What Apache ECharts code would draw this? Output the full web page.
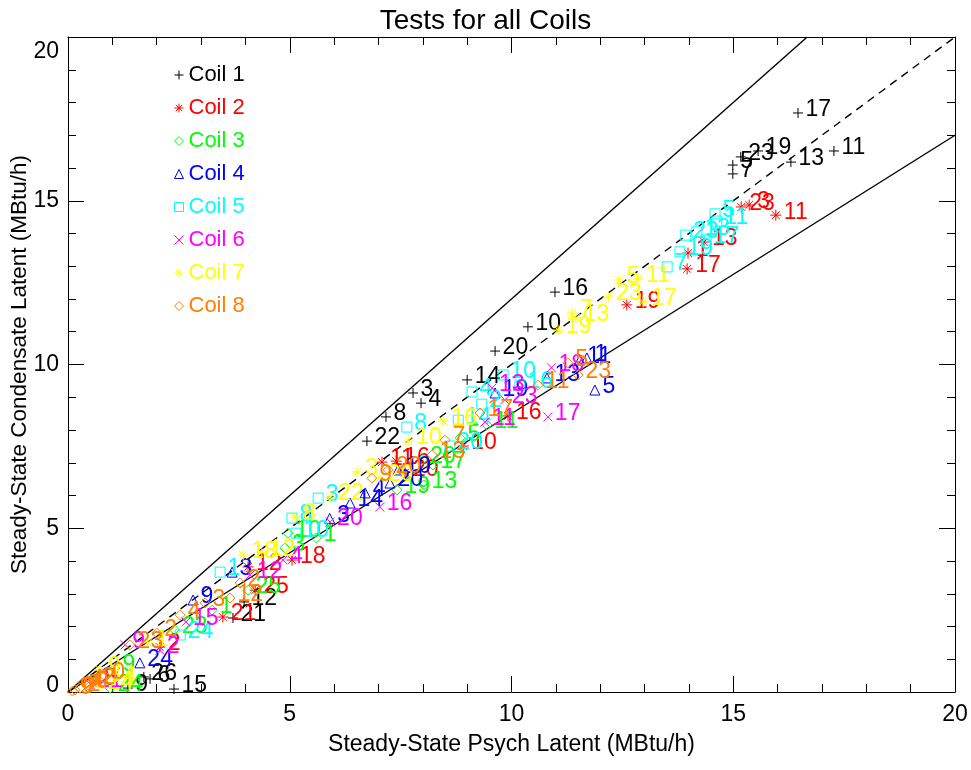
<!DOCTYPE html>
<html>
<head>
<meta charset="utf-8">
<script src="https://cdn.jsdelivr.net/npm/echarts@6/dist/echarts.min.js"></script>
<style>
html,body{margin:0;padding:0;background:#fff;}
#chart{width:971px;height:770px;}
</style>
</head>
<body>
<div id="chart"></div>
<script>
// ---- Data (Psych latent, Condensate latent, test label) ----
const coilNames = ['Coil 1','Coil 2','Coil 3','Coil 4','Coil 5','Coil 6','Coil 7','Coil 8'];
const coilColors = ['#000000','#ff0000','#00ff00','#0000ff','#00ffff','#ff00ff','#ffff00','#ff8000'];

const coil1 = [[16.46,17.68,'17'],[15.56,16.52,'19'],[16.30,16.18,'13'],[17.27,16.52,'11'],
  [14.99,16.09,'5'],[14.99,15.82,'7'],[15.17,16.34,'23'],[10.98,12.21,'16'],[10.37,11.15,'10'],
  [9.63,10.41,'20'],[9.00,9.53,'14'],[7.78,9.13,'3'],[7.96,8.82,'4'],[7.17,8.40,'8'],
  [6.74,7.66,'22'],[3.97,2.75,'12'],[3.72,2.26,'21'],[1.71,0.46,'26'],[1.85,0.40,'6'],
  [1.35,0.12,'9'],[2.39,0.09,'15']];
const coil2 = [[15.18,14.81,'23'],[15.36,14.87,'3'],[15.96,14.56,'11'],[14.34,13.74,'13'],
  [13.98,13.40,'1'],[13.96,12.92,'17'],[12.60,11.82,'19'],[9.92,8.43,'16'],[8.91,7.51,'10'],
  [7.08,7.02,'11'],[7.40,7.05,'16'],[5.05,4.03,'18'],[4.22,3.11,'25'],[3.49,2.29,'21'],
  [2.07,1.37,'2'],[4.06,3.82,'12'],[0.63,0.31,'5'],[7.60,6.70,'20']];
const coil3 = [[8.03,6.32,'13'],[7.42,6.17,'19'],[8.23,6.93,'17'],[8.84,7.76,'5'],
  [9.45,8.15,'11'],[4.96,4.85,'10'],[4.89,4.40,'3'],[4.06,3.11,'25'],[1.06,0.73,'9'],
  [0.95,0.12,'24'],[3.25,2.50,'1'],[2.40,1.90,'23'],[5.60,4.70,'1'],[8.00,7.10,'20']];
const coil4 = [[11.54,10.14,'11'],[11.88,9.22,'5'],[10.80,9.59,'13'],[7.44,6.78,'10'],
  [6.36,5.77,'14'],[6.70,6.08,'4'],[9.63,9.13,'19'],[2.82,2.81,'9'],[1.62,0.89,'24'],
  [3.70,3.66,'3'],[7.26,6.38,'20'],[11.70,10.20,'1'],[5.90,5.30,'3']];
const coil5 = [[14.59,14.60,'5'],[14.63,14.38,'11'],[13.93,13.95,'23'],[14.18,14.05,'13'],
  [14.39,13.80,'17'],[13.80,13.44,'19'],[13.51,12.98,'7'],[9.81,9.68,'10'],[10.19,9.37,'16'],
  [9.11,9.16,'4'],[7.64,8.09,'8'],[9.33,8.79,'2'],[8.61,7.51,'20'],[5.64,5.92,'3'],
  [5.05,5.31,'8'],[5.14,4.85,'10'],[2.53,1.74,'24'],[3.43,3.66,'1'],[8.80,8.30,'14']];
const coil6 = [[10.82,8.40,'17'],[7.03,5.65,'16'],[5.91,5.19,'20'],[9.56,9.28,'13'],
  [9.85,8.92,'23'],[9.40,8.24,'11'],[4.85,4.03,'4'],[4.10,3.57,'12'],[2.66,2.14,'15'],
  [1.29,1.44,'9'],[2.07,1.28,'2'],[0.50,0.24,'21'],[10.90,9.90,'18']];
const coil7 = [[12.42,12.58,'5'],[12.85,12.61,'11'],[12.18,12.06,'23'],[12.97,11.91,'17'],
  [11.36,11.57,'7'],[11.45,11.42,'13'],[11.05,11.05,'19'],[8.46,8.27,'16'],[7.67,7.66,'10'],
  [6.52,6.72,'3'],[5.91,5.95,'22'],[7.03,6.53,'20'],[5.12,5.34,'8'],[3.95,4.18,'18'],
  [4.37,4.27,'12'],[1.06,0.37,'4'],[0.72,0.67,'9'],[0.72,0.18,'24'],[1.80,1.50,'1']];
const coil8 = [[11.27,10.05,'5'],[11.50,9.68,'23'],[10.60,9.37,'11'],[9.29,8.52,'17'],
  [8.50,7.69,'7'],[8.21,7.24,'13'],[7.22,6.78,'20'],[6.85,6.53,'9'],[3.88,3.33,'2'],
  [3.65,2.87,'12'],[3.09,2.72,'3'],[2.53,2.35,'4'],[1.40,1.44,'23'],[0.16,0.06,'0'],
  [0.27,0.12,'2'],[0.45,0.21,'0'],[0.61,0.34,'2'],[0.83,0.49,'0'],[0.35,0.30,'4'],
  [0.10,0.03,'9'],[2.00,1.80,'2']];
const coilData = [coil1,coil2,coil3,coil4,coil5,coil6,coil7,coil8];

// Reference lines: y = slope * x
const refSlopes = [1.0, 1.2, 0.85];
const refDashed = [true, false, false];

const xTicks = [0,5,10,15,20];
const yTicks = [0,5,10,15,20];
const xMax = 20, yMax = 20;

// ---- Symbols ----
const symbols = [
  'path://M0,5L10,5M5,0L5,10',                                   // plus
  'path://M0,5L10,5M5,0L5,10M1.5,1.5L8.5,8.5M1.5,8.5L8.5,1.5',    // asterisk
  'path://M5,0L10,5L5,10L0,5Z',                                   // diamond
  'path://M5,0L10,10L0,10Z',                                      // triangle
  'path://M0,0L10,0L10,10L0,10Z',                                 // square
  'path://M0,0L10,10M0,10L10,0',                                  // x
  'path://M0,5L10,5M5,0L5,10M1.5,1.5L8.5,8.5M1.5,8.5L8.5,1.5',    // asterisk
  'path://M5,0L10,5L5,10L0,5Z'                                    // diamond
];
const symSizes = [10,11,10,10,10,9,11,10];

const FONT = "'Liberation Sans', Arial, Helvetica, sans-serif";

const series = [];
refSlopes.forEach((s, i) => {
  const xe = Math.min(xMax, yMax / s);
  series.push({
    type: 'line', xAxisIndex: 0, yAxisIndex: 0,
    data: [[0,0],[xe, s*xe]],
    symbol: 'none', silent: true, z: 1,
    lineStyle: {color:'#000', width: 1.4, type: refDashed[i] ? [8,6] : 'solid'}
  });
});
coilData.forEach((arr, i) => {
  series.push({
    type: 'scatter', name: coilNames[i], xAxisIndex: 0, yAxisIndex: 0,
    symbol: symbols[i], symbolSize: symSizes[i], z: 3 + i,
    itemStyle: {color: 'rgba(0,0,0,0)', borderColor: coilColors[i], borderWidth: 1, opacity: 1},
    label: {show: true, position: 'right', distance: 2, formatter: '{b}', color: coilColors[i],
            fontSize: 23, fontFamily: FONT, offset: [0,-3]},
    emphasis: {disabled: true},
    data: arr.map(d => ({value: [d[0], d[1]], name: d[2]}))
  });
});

const axisCommon = {
  min: 0, max: 20, interval: 5,
  axisLine: {show: true, onZero: false, lineStyle: {color:'#000', width: 1}},
  axisTick: {show: true, inside: true, length: 16, lineStyle: {color:'#000'}},
  minorTick: {show: true, splitNumber: 5, length: 8, lineStyle: {color:'#000'}},
  splitLine: {show: false},
};

const chart = echarts.init(document.getElementById('chart'), null, {renderer: 'canvas'});
chart.setOption({
  animation: false,
  backgroundColor: '#fff',
  textStyle: {fontFamily: FONT},
  title: {text: 'Tests for all Coils', left: 'center', top: 2,
          textStyle: {fontSize: 28, fontWeight: 'normal', color: '#000', fontFamily: FONT}},
  grid: {left: 68, right: 16, top: 37, bottom: 78, containLabel: false, outerBoundsMode: 'none'},
  legend: {
    orient: 'vertical', left: 169, top: 59, itemWidth: 9, itemHeight: 9, itemGap: 11,
    selectedMode: false,
    textStyle: {fontSize: 22, fontFamily: FONT, lineHeight: 22},
    data: coilNames.map((n, i) => ({name: n, icon: symbols[i], textStyle: {color: coilColors[i]},
      itemStyle: {color: 'rgba(0,0,0,0)', borderColor: coilColors[i], borderWidth: 1}}))
  },
  xAxis: [
    Object.assign({}, axisCommon, {type: 'value', position: 'bottom',
      name: 'Steady-State Psych Latent (MBtu/h)', nameLocation: 'middle', nameGap: 41,
      nameMoveOverlap: false,
      nameTextStyle: {fontSize: 23, color: '#000', fontFamily: FONT},
      axisLabel: {show: true, margin: 11, fontSize: 23, color: '#000', fontFamily: FONT,
        formatter: v => xTicks.includes(v) ? String(v) : ''}}),
    Object.assign({}, axisCommon, {type: 'value', position: 'top', axisLabel: {show: false}})
  ],
  yAxis: [
    Object.assign({}, axisCommon, {type: 'value', position: 'left',
      name: 'Steady-State Condensate Latent (MBtu/h)', nameLocation: 'middle', nameGap: 37,
      nameMoveOverlap: false,
      nameTextStyle: {fontSize: 22.5, color: '#000', fontFamily: FONT},
      axisLabel: {show: true, margin: 9, fontSize: 23, color: '#000', fontFamily: FONT,
        formatter: v => v === 20 ? '{top|20}' : (v === 0 ? '{bot|0}' : (yTicks.includes(v) ? String(v) : '')),
        rich: {
          top: {fontSize: 23, fontFamily: FONT, color: '#000', padding: [30,0,0,0]},
          bot: {fontSize: 23, fontFamily: FONT, color: '#000', padding: [0,0,12,0]}
        }}}),
    Object.assign({}, axisCommon, {type: 'value', position: 'right', axisLabel: {show: false}})
  ],
  series: series
});
</script>
</body>
</html>
